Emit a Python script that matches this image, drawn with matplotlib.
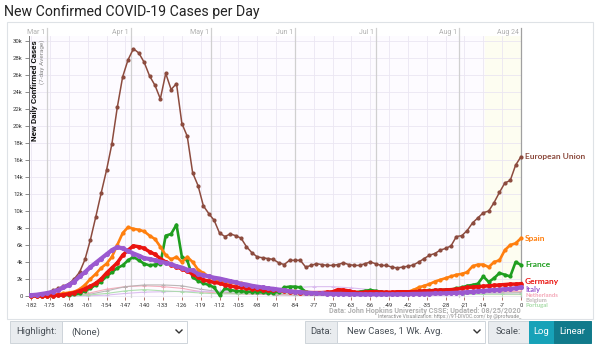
import numpy as np
import matplotlib
matplotlib.use("Agg")
import matplotlib.pyplot as plt
from matplotlib.patches import Rectangle
from matplotlib.lines import Line2D

plt.rcParams["font.family"] = ["Roboto", "DejaVu Sans"]

W, H = 600, 346

# ── 数据：距 8/24 的天数（每 2 天一个点），单位：千例/天（7 日均值） ──
days = list(range(-182, 1, 2))

eu = [0.10, 0.12, 0.20, 0.35, 0.65, 0.9, 1.15, 1.45, 2.0, 2.8,
      4.3, 6.6, 9.3, 12.1, 14.8, 17.9, 22.2, 25.8, 27.8, 29.1,
      28.6, 27.5, 25.9, 24.8, 23.2, 26.2, 24.3, 25.0, 20.3, 18.8,
      14.5, 13.0, 10.6, 9.7, 8.9, 7.4, 7.0, 7.3, 7.1, 6.8,
      5.8, 5.1, 4.6, 4.5, 4.4, 4.3, 3.9, 3.7, 4.2, 4.2,
      4.2, 3.4, 3.6, 3.8, 3.7, 3.6, 3.6, 3.7, 3.9, 3.7,
      3.6, 3.6, 3.8, 4.0, 3.8, 3.6, 3.6, 3.4, 3.3, 3.4,
      3.5, 3.65, 4.0, 4.4, 4.8, 5.0, 5.4, 5.6, 5.9, 7.0,
      7.1, 7.7, 8.6, 9.2, 9.8, 10.0, 11.0, 12.2, 13.3, 13.6,
      15.4, 16.4]

spain = [0.0, 0.0, 0.02, 0.05, 0.1, 0.2, 0.3, 0.4, 0.5, 0.8,
         1.3, 2.0, 2.6, 3.3, 3.8, 4.6, 6.0, 7.4, 8.1, 7.9,
         7.8, 7.6, 7.1, 6.7, 5.8, 4.8, 4.3, 4.6, 4.0, 4.6,
         4.0, 3.1, 2.7, 2.3, 2.0, 1.7, 1.6, 1.6, 1.5, 1.5,
         1.3, 1.2, 1.1, 1.0, 0.9, 0.8, 0.75, 0.7, 0.6, 0.55,
         0.5, 0.45, 0.4, 0.35, 0.35, 0.3, 0.3, 0.3, 0.3, 0.3,
         0.3, 0.3, 0.3, 0.3, 0.3, 0.3, 0.3, 0.3, 0.3, 0.35,
         0.5, 0.7, 1.0, 1.2, 1.4, 1.7, 1.9, 2.1, 2.3, 2.5,
         2.6, 2.8, 3.5, 3.7, 3.7, 3.4, 4.0, 4.2, 5.4, 6.0,
         6.2, 6.8]

france = [0.0, 0.0, 0.0, 0.02, 0.05, 0.08, 0.1, 0.15, 0.2, 0.3,
          0.6, 0.9, 1.3, 1.7, 2.3, 2.8, 3.3, 3.6, 4.2, 4.6,
          4.2, 3.8, 3.6, 3.7, 3.8, 7.1, 7.3, 8.4, 4.6, 4.2,
          2.2, 1.8, 1.5, 1.3, 1.0, 0.1, 0.9, 0.7, 0.6, 0.55,
          0.5, 0.5, 0.45, 0.45, 0.4, 0.4, 0.5, 1.0, 1.1, 1.1,
          1.0, 0.5, 0.4, 0.4, 0.4, 0.4, 0.4, 0.4, 0.4, 0.4,
          0.4, 0.5, 0.6, 0.7, 0.6, 0.5, 0.4, 0.35, 0.3, 0.3,
          0.4, 0.5, 0.6, 0.6, 0.65, 0.7, 0.7, 0.75, 0.75, 0.9,
          1.0, 1.2, 1.3, 1.45, 2.3, 1.65, 2.1, 2.7, 2.5, 2.3,
          4.0, 3.65]

germany = [0.0, 0.0, 0.01, 0.02, 0.05, 0.08, 0.15, 0.25, 0.4, 0.6,
           0.85, 1.15, 1.5, 2.0, 2.7, 3.3, 3.9, 4.8, 5.4, 5.9,
           5.8, 5.6, 5.2, 4.9, 4.4, 4.0, 3.7, 3.4, 3.2, 2.9,
           2.6, 2.2, 1.9, 1.75, 1.6, 1.5, 1.3, 1.2, 1.05, 1.0,
           0.9, 0.85, 0.8, 0.75, 0.7, 0.7, 0.65, 0.6, 0.5, 0.45,
           0.4, 0.4, 0.4, 0.4, 0.4, 0.45, 0.5, 0.75, 0.7, 0.6,
           0.45, 0.4, 0.45, 0.5, 0.5, 0.45, 0.45, 0.45, 0.5, 0.5,
           0.5, 0.5, 0.55, 0.6, 0.6, 0.65, 0.7, 0.7, 0.75, 0.8,
           0.9, 1.0, 1.05, 1.1, 1.15, 1.2, 1.25, 1.3, 1.35, 1.4,
           1.4, 1.45]

italy = [0.1, 0.15, 0.25, 0.35, 0.5, 0.7, 1.0, 1.3, 1.7, 2.3,
         2.8, 3.4, 3.9, 4.4, 4.9, 5.4, 5.75, 5.6, 5.3, 5.0,
         4.75, 4.45, 4.35, 4.2, 4.05, 3.9, 3.75, 3.5, 3.35, 3.1,
         3.0, 2.6, 2.45, 2.3, 2.15, 2.05, 1.9, 1.75, 1.6, 1.45,
         1.35, 1.2, 1.1, 1.0, 0.9, 0.85, 0.75, 0.65, 0.55, 0.5,
         0.45, 0.4, 0.35, 0.3, 0.3, 0.28, 0.25, 0.25, 0.24, 0.22,
         0.22, 0.2, 0.2, 0.2, 0.2, 0.2, 0.2, 0.2, 0.2, 0.22,
         0.22, 0.25, 0.25, 0.27, 0.28, 0.3, 0.3, 0.32, 0.35, 0.38,
         0.4, 0.45, 0.5, 0.55, 0.6, 0.65, 0.7, 0.75, 0.8, 0.85,
         0.9, 1.0]

# 其余小国（周度点，淡色）
weeks = list(range(-182, 1, 7))
netherlands = [0, 0, 0.05, 0.3, 0.8, 1.1, 1.2, 1.1, 0.9, 0.5, 0.35, 0.25, 0.2, 0.15,
               0.12, 0.1, 0.08, 0.08, 0.1, 0.15, 0.25, 0.35, 0.5, 0.55, 0.5, 0.5, 0.55]
belgium = [0, 0, 0.02, 0.15, 0.6, 1.1, 1.3, 1.3, 1.2, 0.8, 0.5, 0.3, 0.25, 0.15,
           0.1, 0.08, 0.08, 0.1, 0.1, 0.15, 0.25, 0.45, 0.5, 0.45, 0.35, 0.35, 0.4]
sweden = [0, 0, 0, 0.02, 0.1, 0.3, 0.45, 0.5, 0.55, 0.55, 0.55, 0.6, 0.75, 0.9,
          1.0, 1.1, 1.1, 0.95, 0.75, 0.5, 0.35, 0.3, 0.25, 0.25, 0.25, 0.25, 0.2]
portugal = [0, 0, 0, 0.1, 0.3, 0.6, 0.75, 0.6, 0.5, 0.35, 0.25, 0.25, 0.3, 0.3,
            0.35, 0.35, 0.35, 0.35, 0.3, 0.25, 0.2, 0.2, 0.2, 0.2, 0.2, 0.2, 0.2]

months = ["Mar 1", "Apr 1", "May 1", "Jun 1", "Jul 1", "Aug 1", "Aug 24"]
month_days = [-176, -145, -115, -84, -54, -23, 0]
y_ticks = list(range(0, 31, 2))

main_series = [
    ("European Union", eu, "#8c4b3e", 1.1, 2.0),
    ("France", france, "#1f9e1f", 1.9, 2.0),
    ("Spain", spain, "#ff7f0e", 1.9, 2.0),
    ("Germany", germany, "#ea1410", 2.5, 2.4),
    ("Italy", italy, "#9b59d0", 3.0, 2.6),
]
faint_series = [
    ("Netherlands", netherlands, "#f4a6b6"),
    ("Belgium", belgium, "#b5b0b0"),
    ("Sweden", sweden, "#d8b8ee"),
    ("Portugal", portugal, "#a8dca8"),
]


def fx(x):
    return x / W


def fy(y):
    return 1 - y / H


fig = plt.figure(figsize=(W / 100, H / 100), dpi=100)
fig.patch.set_facecolor("white")

# 图表卡片外框
fig.patches.append(Rectangle((fx(7), fy(319)), fx(586), 297 / H, transform=fig.transFigure,
                             fill=False, edgecolor="#dee2e6", lw=0.8))

fig.text(fx(4), fy(12), "New Confirmed COVID-19 Cases per Day", fontsize=10.2,
         color="#222222", ha="left", va="center")

ax = fig.add_axes([fx(29), fy(297), fx(521 - 29), (297 - 36) / H])
ax.set_facecolor("#fdfbff")
ax.set_xlim(-182.8, 0)
ax.set_ylim(-0.12, 30.6)

# 最近两周浅黄底
ax.axvspan(-13.5, 0, color="#fdfdf1", zorder=0)

for d in range(-182, 1, 7):
    ax.axvline(d, color="#ebe6f2", lw=0.6, zorder=1)
for v in y_ticks:
    ax.axhline(v, color="#ebe6f2", lw=0.6, zorder=1)

for name, d in zip(months, month_days):
    c = "#a0a0a0" if d == 0 else "#d0d0d0"
    ax.plot([d, d], [-0.12, 31.5], color=c, lw=0.9, clip_on=False, zorder=2)
    ax.text(d - 0.8, 31.05, name, fontsize=5, color="#b0b0b0", ha="right", va="center")

for name, vals, c in faint_series:
    ax.plot(weeks, vals, color=c, lw=0.8, marker="+", ms=3, mew=0.7, alpha=0.9, zorder=3)

for name, vals, c, lw, ms in main_series:
    ax.plot(days, vals, color=c, lw=lw, marker="o", ms=ms, mec=c, clip_on=False, zorder=4)

# 右侧国家标签（末尾几个小国错开排列）
labels = [
    ("European Union", 16.4, "#8c4b3e", 6),
    ("Spain", 6.8, "#ff7f0e", 6),
    ("France", 3.65, "#1f9e1f", 6),
    ("Germany", 1.65, "#ea1410", 6),
    ("Italy", 0.8, "#9b59d0", 5.6),
    ("Netherlands", 0.05, "#f4a6b6", 4.3),
    ("Belgium", -0.55, "#c0b8b8", 4.3),
    ("Portugal", -1.15, "#a8dca8", 4.3),
]
for name, v, c, fs in labels:
    ax.text(1.5, v, name, fontsize=fs, fontweight="bold", color=c, ha="left", va="center",
            clip_on=False, family=["Lato", "DejaVu Sans"])

for s in ["top", "right", "bottom"]:
    ax.spines[s].set_visible(False)
ax.spines["left"].set_color("#777777")
ax.spines["left"].set_linewidth(0.7)
ax.set_yticks(y_ticks)
ax.set_yticklabels(["0" if v == 0 else f"{v}k" for v in y_ticks], fontsize=4.3, color="#333333")
ax.set_xticks(weeks)
ax.set_xticklabels([str(d) for d in weeks], fontsize=4.2, color="#333333")
ax.tick_params(axis="y", length=3, width=0.6, color="#777777", pad=1.5)
ax.tick_params(axis="x", length=2, width=0.6, color="#a05a50", pad=2)

fig.text(fx(34.5), fy(40), "New Daily Confirmed Cases", rotation=90, fontsize=5.9,
         fontweight="bold", color="#111111", ha="center", va="top")
fig.text(fx(42.5), fy(40), "(7-day Average)", rotation=90, fontsize=4.6,
         color="#8a8a8a", ha="center", va="top")

fig.text(fx(521), fy(311), "Data: John Hopkins University CSSE; Updated: 08/25/2020",
         fontsize=5.2, color="#b0b0b0", ha="right", va="center", fontweight="bold")
fig.text(fx(521), fy(316.5), "Interactive Visualization: https://91-DIVOC.com/ by @profwade_",
         fontsize=3.6, color="#8a8a8a", ha="right", va="center")


# ── 底部控件栏 ──
def box(x0, x1, fc, ec="#ced4da"):
    fig.patches.append(Rectangle((fx(x0), fy(343)), fx(x1 - x0), 22 / H, transform=fig.transFigure,
                                 facecolor=fc, edgecolor=ec, lw=0.7))


def chevron(x):
    fig.lines.append(Line2D([fx(x - 3), fx(x), fx(x + 3)], [fy(330), fy(333), fy(330)],
                            transform=fig.transFigure, color="#333333", lw=1.0))


box(10, 62, "#e9ecef")
fig.text(fx(36), fy(332), "Highlight:", fontsize=6.8, color="#495057", ha="center", va="center")
box(62, 187, "white")
fig.text(fx(71), fy(332), "(None)", fontsize=6.8, color="#495057", ha="left", va="center")
chevron(179)

box(305, 337, "#e9ecef")
fig.text(fx(321), fy(332), "Data:", fontsize=6.8, color="#495057", ha="center", va="center")
box(337, 485, "white")
fig.text(fx(347), fy(332), "New Cases, 1 Wk. Avg.", fontsize=6.8, color="#495057", ha="left", va="center")
chevron(477)

box(488, 529, "#e9ecef")
fig.text(fx(508.5), fy(332), "Scale:", fontsize=6.8, color="#495057", ha="center", va="center")
box(529, 554, "#17a2b8", "#17a2b8")
fig.text(fx(541.5), fy(332), "Log", fontsize=6.8, color="white", ha="center", va="center")
box(554, 591, "#117a8b", "#117a8b")
fig.text(fx(572.5), fy(332), "Linear", fontsize=6.8, color="white", ha="center", va="center")

fig.savefig("out.png", dpi=100)
